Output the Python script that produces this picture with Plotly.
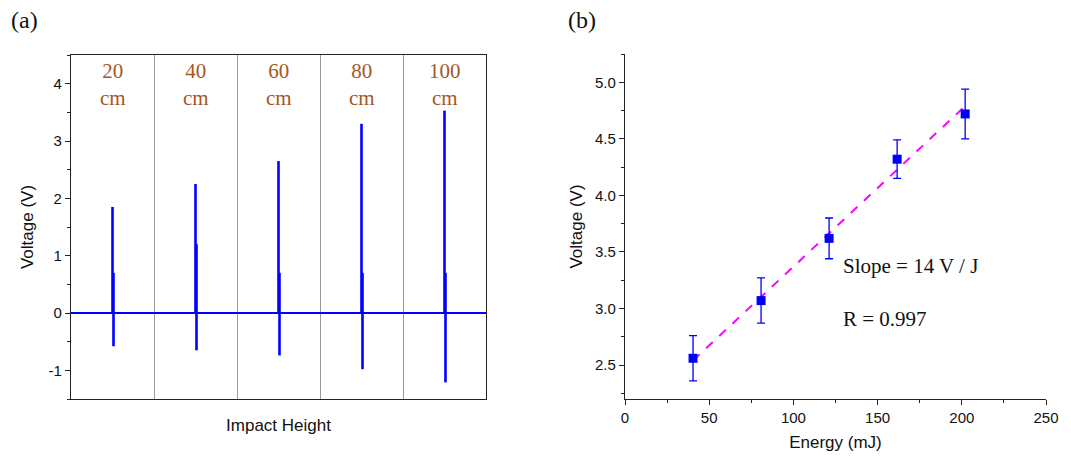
import plotly.graph_objects as go

# ---------------- data ----------------
heights = ["20", "40", "60", "80", "100"]
pos_peak = [1.85, 2.25, 2.65, 3.30, 3.53]
neg_peak = [-0.58, -0.65, -0.74, -0.98, -1.21]
second_peak = [0.70, 1.20, 0.70, 0.70, 0.70]
volt_ticks_a = [-1, 0, 1, 2, 3, 4]
volt_ticklabels_a = ["-1", "0", "1", "2", "3", "4"]

energy = [40.4, 80.8, 121.2, 161.6, 202.0]
voltage = [2.56, 3.07, 3.62, 4.32, 4.72]
v_err = [0.20, 0.20, 0.18, 0.17, 0.22]
fit_x = [40.4, 202.0]
fit_y = [2.54, 4.79]

# figure sits inside the page body's 8px margin
OFF = 8
W, H = 1055, 444
def PX(x):
    return (x - OFF) / W
def PY(y):
    return 1 - (y - OFF) / H
def px(x0, x1):
    return [PX(x0), PX(x1)]
def py(top, bottom):
    return [PY(bottom), PY(top)]

BLUE = "#0000FF"
fig = go.Figure()

# ---------- panel (a) ----------
fig.add_trace(go.Scatter(x=[0, 5], y=[0, 0], mode="lines",
                         line=dict(color=BLUE, width=2), xaxis="x", yaxis="y",
                         showlegend=False, hoverinfo="skip"))
for i, h in enumerate(heights):
    c = i + 0.5
    d = 0.012
    fig.add_trace(go.Scatter(
        x=[c, c, None, c + d, c + d, None, c + d, c + d],
        y=[0, pos_peak[i], None, 0, neg_peak[i], None, 0, second_peak[i]],
        mode="lines", line=dict(color=BLUE, width=2.6), xaxis="x", yaxis="y",
        showlegend=False, hoverinfo="skip"))
    fig.add_annotation(x=c, y=3.99, xref="x", yref="y", text=f"{h}<br>cm",
                       showarrow=False, font=dict(family="Liberation Serif", size=21, color="#A3581F"),
                       yanchor="middle")

# ---------- panel (b) ----------
fig.add_trace(go.Scatter(x=fit_x, y=fit_y, mode="lines",
                         line=dict(color="#FF00FF", width=2, dash="dash"),
                         xaxis="x2", yaxis="y2", showlegend=False))
fig.add_trace(go.Scatter(x=energy, y=voltage, mode="markers",
                         marker=dict(symbol="square", size=9, color=BLUE),
                         error_y=dict(type="data", array=v_err, color=BLUE, thickness=1.3, width=4),
                         xaxis="x2", yaxis="y2", showlegend=False))

serif = dict(family="Liberation Serif", size=21, color="#111")
fig.add_annotation(x=PX(841), y=PY(266), xref="paper", yref="paper", text="Slope = 14 V / J",
                   showarrow=False, xanchor="left", yanchor="middle", font=serif)
fig.add_annotation(x=PX(841), y=PY(319), xref="paper", yref="paper", text="R = 0.997",
                   showarrow=False, xanchor="left", yanchor="middle", font=serif)

fig.add_annotation(x=PX(9), y=PY(20), xref="paper", yref="paper", text="(a)",
                   showarrow=False, xanchor="left", yanchor="middle",
                   font=dict(family="Liberation Serif", size=24, color="#111"))
fig.add_annotation(x=PX(566), y=PY(20), xref="paper", yref="paper", text="(b)",
                   showarrow=False, xanchor="left", yanchor="middle",
                   font=dict(family="Liberation Serif", size=24, color="#111"))

tickfont = dict(family="Arial, Liberation Sans", size=15, color="#111")
titlefont = dict(family="Arial, Liberation Sans", size=17, color="#111")
axline = dict(showline=True, linecolor="#222", linewidth=1.3, automargin=False)

fig.update_layout(
    width=W, height=H, margin=dict(l=0, r=0, t=0, b=0, autoexpand=False),
    paper_bgcolor="white", plot_bgcolor="white",
    xaxis=dict(domain=px(71, 486), range=[0, 5], tickvals=[1, 2, 3, 4],
               showticklabels=False, ticks="", showgrid=True, gridcolor="#999999", gridwidth=1,
               zeroline=False, mirror=True, title=dict(text="Impact Height", font=titlefont, standoff=19),
               **axline),
    yaxis=dict(domain=py(55, 399), range=[-1.5, 4.5], tickvals=volt_ticks_a, ticktext=volt_ticklabels_a,
               ticks="outside", ticklen=5, tickcolor="#222", tickfont=tickfont,
               minor=dict(ticks="outside", ticklen=3, dtick=0.5, tick0=0, tickcolor="#222"),
               showgrid=False, zeroline=False, mirror=True,
               title=dict(text="Voltage (V)", font=titlefont, standoff=10), **axline),
    xaxis2=dict(domain=px(625, 1046), range=[0, 250], anchor="y2", tickvals=[0, 50, 100, 150, 200, 250],
                ticks="outside", ticklen=5, tickcolor="#222", tickfont=tickfont,
                minor=dict(ticks="outside", ticklen=3, dtick=25, tick0=0, tickcolor="#222"),
                showgrid=False, zeroline=False,
                title=dict(text="Energy (mJ)", font=titlefont, standoff=19), **axline),
    yaxis2=dict(domain=py(54, 399), range=[2.2, 5.25], anchor="x2",
                tickvals=[2.5, 3.0, 3.5, 4.0, 4.5, 5.0], ticktext=["2.5", "3.0", "3.5", "4.0", "4.5", "5.0"],
                ticks="outside", ticklen=5, tickcolor="#222", tickfont=tickfont,
                minor=dict(ticks="outside", ticklen=3, dtick=0.25, tick0=0, tickcolor="#222"),
                showgrid=False, zeroline=False,
                title=dict(text="Voltage (V)", font=titlefont, standoff=8), **axline),
)

fig.write_html("out.html")
